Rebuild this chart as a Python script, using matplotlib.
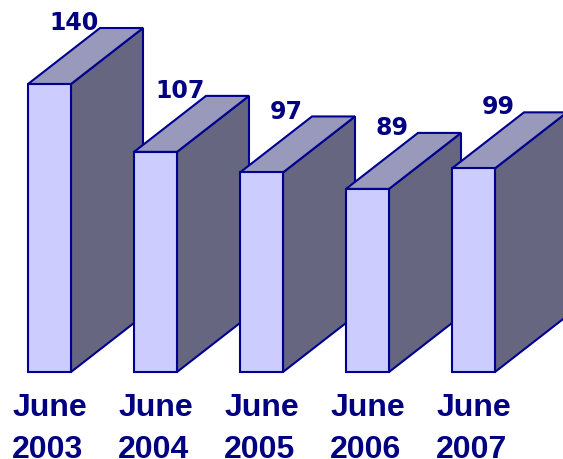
import matplotlib
matplotlib.use("Agg")
import matplotlib.pyplot as plt
from matplotlib.patches import Polygon

categories = ["June\n2003", "June\n2004", "June\n2005", "June\n2006", "June\n2007"]
values = [140, 107, 97, 89, 99]

FRONT = "#CCCCFF"
TOP = "#9999BB"
SIDE = "#666680"
EDGE = "#000090"
TEXT = "#000080"

fig = plt.figure(figsize=(5.63, 4.59), dpi=100)
ax = fig.add_axes([0, 0, 1, 1])
ax.set_xlim(-28 / 106, (563 - 28) / 106)
ax.set_ylim(-87 / 2.0571, 372 / 2.0571)
ax.axis("off")

w = 43 / 106          # bar front width in category units
dx = 72 / 106         # depth offset x
dy = 56 / 2.0571      # depth offset y (value units)

for i, (cat, v) in enumerate(zip(categories, values)):
    x = i
    side = Polygon([(x + w, 0), (x + w + dx, dy), (x + w + dx, v + dy), (x + w, v)],
                   closed=True, facecolor=SIDE, edgecolor=EDGE, lw=1.5, joinstyle="miter")
    top = Polygon([(x, v), (x + w, v), (x + w + dx, v + dy), (x + dx, v + dy)],
                  closed=True, facecolor=TOP, edgecolor=EDGE, lw=1.5, joinstyle="miter")
    front = Polygon([(x, 0), (x + w, 0), (x + w, v), (x, v)],
                    closed=True, facecolor=FRONT, edgecolor=EDGE, lw=1.5, joinstyle="miter")
    for p in (side, top, front):
        ax.add_patch(p)
    ax.text(x + w / 2 + 25 / 106, v + dy - 1.0, f"{v}", ha="center", va="baseline",
            fontsize=17, fontweight="bold", color=TEXT, family="DejaVu Sans")
    ax.text(x + w / 2, -10.4, cat, ha="center", va="top", multialignment="left",
            fontsize=23, fontweight="bold", color=TEXT, family="Liberation Sans",
            linespacing=1.5)

fig.savefig("out.png", dpi=100)
